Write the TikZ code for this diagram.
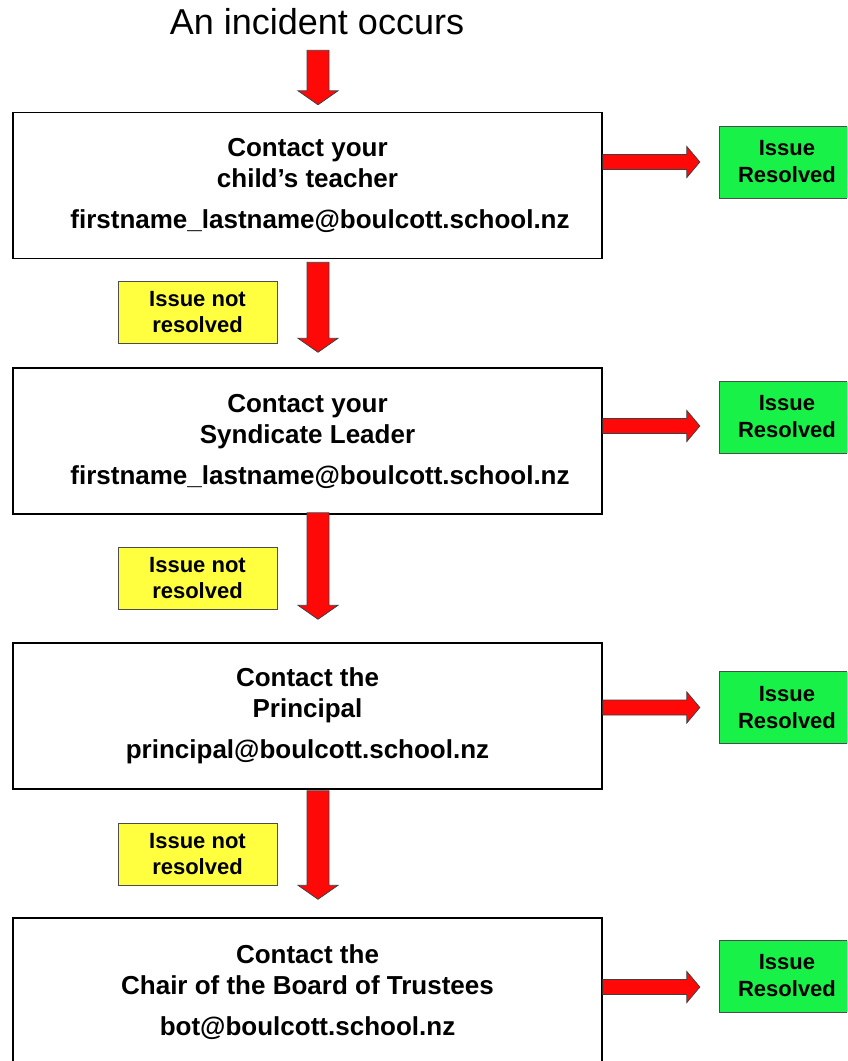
\documentclass[tikz,border=0pt]{standalone}
\usepackage{fontspec}
\setmainfont{Liberation Sans}
\usetikzlibrary{calc,positioning}
\definecolor{arrowred}{RGB}{255,8,8}
\definecolor{okgreen}{RGB}{24,242,72}
\definecolor{noyellow}{RGB}{255,255,64}

\begin{document}
\begin{tikzpicture}[x=1pt,y=-1pt,
    redarrow/.style n args={3}{draw=black!75,fill=arrowred,line width=0.8pt,
      to path={($(\tikztotarget)!#3!(\tikztostart)$) coordinate (ah)
        ($(\tikztostart)!#1!90:(\tikztotarget)$)
        -- ($(ah)!#1!90:(\tikztotarget)$) -- ($(ah)!#2!90:(\tikztotarget)$)
        -- (\tikztotarget)
        -- ($(ah)!#2!-90:(\tikztotarget)$) -- ($(ah)!#1!-90:(\tikztotarget)$)
        -- ($(\tikztostart)!#1!-90:(\tikztotarget)$) -- cycle}},
    downarr/.style={redarrow={11pt}{20pt}{14pt}},
    rightarr/.style={redarrow={7.5pt}{15.5pt}{13pt}}]
  \tikzstyle{stepbox}=[draw,line width=1.5pt,minimum width=589pt,minimum height=146pt,
                       align=center,font=\fontsize{26}{31}\selectfont\bfseries]
  \tikzstyle{okbox}=[draw=black!70,fill=okgreen,minimum width=136pt,minimum height=72pt,
                     align=center,font=\fontsize{22}{27}\selectfont\bfseries]
  \tikzstyle{nobox}=[draw=black!70,fill=noyellow,minimum width=159pt,minimum height=62pt,
                     align=center,font=\fontsize{22}{26}\selectfont\bfseries]

  \useasboundingbox (0,0) rectangle (847,1061);
  \fill[white] (0,0) rectangle (847,1061);
  \clip (0,0) rectangle (847,1061);

  \node[font=\fontsize{36}{40}\selectfont] (start) at (317,21.5) {An incident occurs};

  \node[stepbox] (teacher) at (307.5,185.5)
    {Contact your\\child’s teacher\\[10pt]\hspace*{25pt}firstname\_lastname@boulcott.school.nz};
  \node[stepbox] (leader) [below=108pt of teacher]
    {Contact your\\Syndicate Leader\\[10pt]\hspace*{25pt}firstname\_lastname@boulcott.school.nz};
  \node[stepbox] (principal) [below=127.5pt of leader]
    {Contact the\\Principal\\[10pt]principal@boulcott.school.nz};
  \node[stepbox,minimum height=149pt] (board) [below=127.5pt of principal]
    {Contact the\\Chair of the Board of Trustees\\[10pt]bot@boulcott.school.nz};

  \node[okbox] (ok1) at (787,162)   {Issue\\Resolved};
  \node[okbox] (ok2) at (787,417)   {Issue\\Resolved};
  \node[okbox] (ok3) at (787,707.5) {Issue\\Resolved};
  \node[okbox] (ok4) at (787,976)   {Issue\\Resolved};

  \node[nobox] (no1) at (197.5,312.5) {Issue not\\resolved};
  \node[nobox] (no2) at (197.5,578.5) {Issue not\\resolved};
  \node[nobox] (no3) at (197.5,854)   {Issue not\\resolved};

  \coordinate (r1) at ([xshift=-19pt]ok1.west);
  \coordinate (r2) at ([xshift=-19pt,yshift=-9pt]ok2.west);
  \coordinate (r3) at ([xshift=-19pt]ok3.west);
  \coordinate (r4) at ([xshift=-19pt,yshift=-11pt]ok4.west);

  \path[downarr] ([xshift=1pt,yshift=-12pt]start.south) to ([xshift=10.5pt,yshift=7pt]teacher.north);
  \path[downarr] ([xshift=10.5pt,yshift=-3pt]teacher.south) to ([xshift=10.5pt,yshift=15pt]leader.north);
  \path[downarr] ([xshift=10.5pt,yshift=2pt]leader.south) to ([xshift=10.5pt,yshift=23pt]principal.north);
  \path[downarr] ([xshift=10.5pt,yshift=-1pt]principal.south) to ([xshift=10.5pt,yshift=18pt]board.north);

  \path[rightarr] (teacher.east |- r1) to (r1);
  \path[rightarr] (leader.east |- r2) to (r2);
  \path[rightarr] (principal.east |- r3) to (r3);
  \path[rightarr] (board.east |- r4) to (r4);
\end{tikzpicture}
\end{document}
